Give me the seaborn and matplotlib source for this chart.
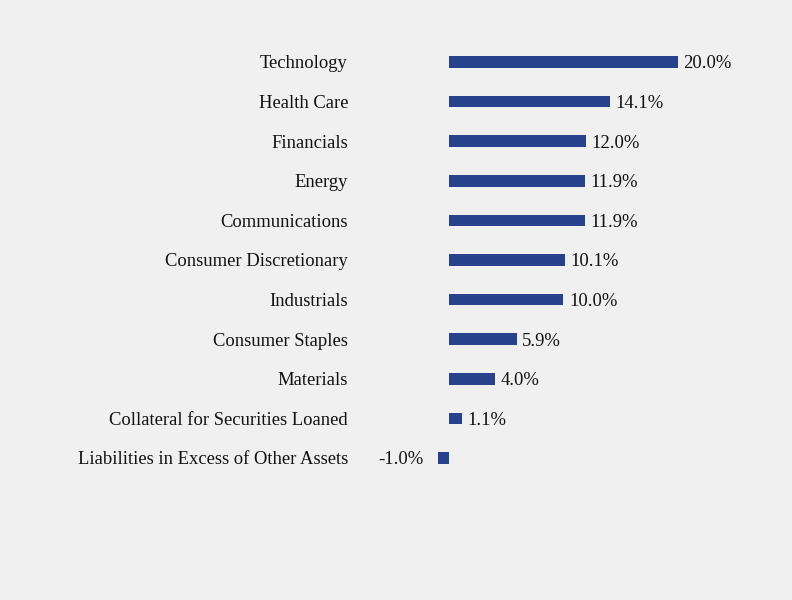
import matplotlib
matplotlib.use("Agg")
import matplotlib.pyplot as plt
import seaborn as sns
import pandas as pd

categories = ["Technology", "Health Care", "Financials", "Energy", "Communications",
              "Consumer Discretionary", "Industrials", "Consumer Staples", "Materials",
              "Collateral for Securities Loaned", "Liabilities in Excess of Other Assets"]
values = [20.0, 14.1, 12.0, 11.9, 11.9, 10.1, 10.0, 5.9, 4.0, 1.1, -1.0]
value_labels = ["20.0%", "14.1%", "12.0%", "11.9%", "11.9%", "10.1%", "10.0%",
                "5.9%", "4.0%", "1.1%", "-1.0%"]

sns.set_theme(style="white")
plt.rcParams["font.family"] = ["Liberation Serif", "DejaVu Serif"]

bg = "#f0f0f0"
bar_color = "#27418c"

df = pd.DataFrame({"category": categories, "value": values})

fig = plt.figure(figsize=(7.92, 6.0), dpi=100, facecolor=bg)
ax = fig.add_axes([360 / 792, 0.2037, 400 / 792, 0.726])
ax.set_facecolor(bg)

sns.barplot(data=df, x="value", y="category", orient="h", color=bar_color,
            width=0.29, saturation=1, linewidth=0, ax=ax)

ax.set_xlim(-7.8, 27.2)
ax.set_ylim(10.5, -0.5)
ax.set_xlabel("")
ax.set_ylabel("")
ax.set_xticks([])
for s in ax.spines.values():
    s.set_visible(False)
ax.tick_params(axis="y", length=0, pad=8.6, labelsize=13.4, labelcolor="#111111")
for t in ax.get_yticklabels():
    t.set_verticalalignment("center_baseline")

for i, (v, lab) in enumerate(zip(values, value_labels)):
    if v >= 0:
        ax.annotate(lab, xy=(v, i), xytext=(4, 0), textcoords="offset points",
                    ha="left", va="center_baseline", fontsize=13.4, color="#111111")
    else:
        ax.annotate(lab, xy=(v, i), xytext=(-10, 0), textcoords="offset points",
                    ha="right", va="center_baseline", fontsize=13.4, color="#111111")

fig.savefig("out.png", dpi=100, facecolor=bg)
